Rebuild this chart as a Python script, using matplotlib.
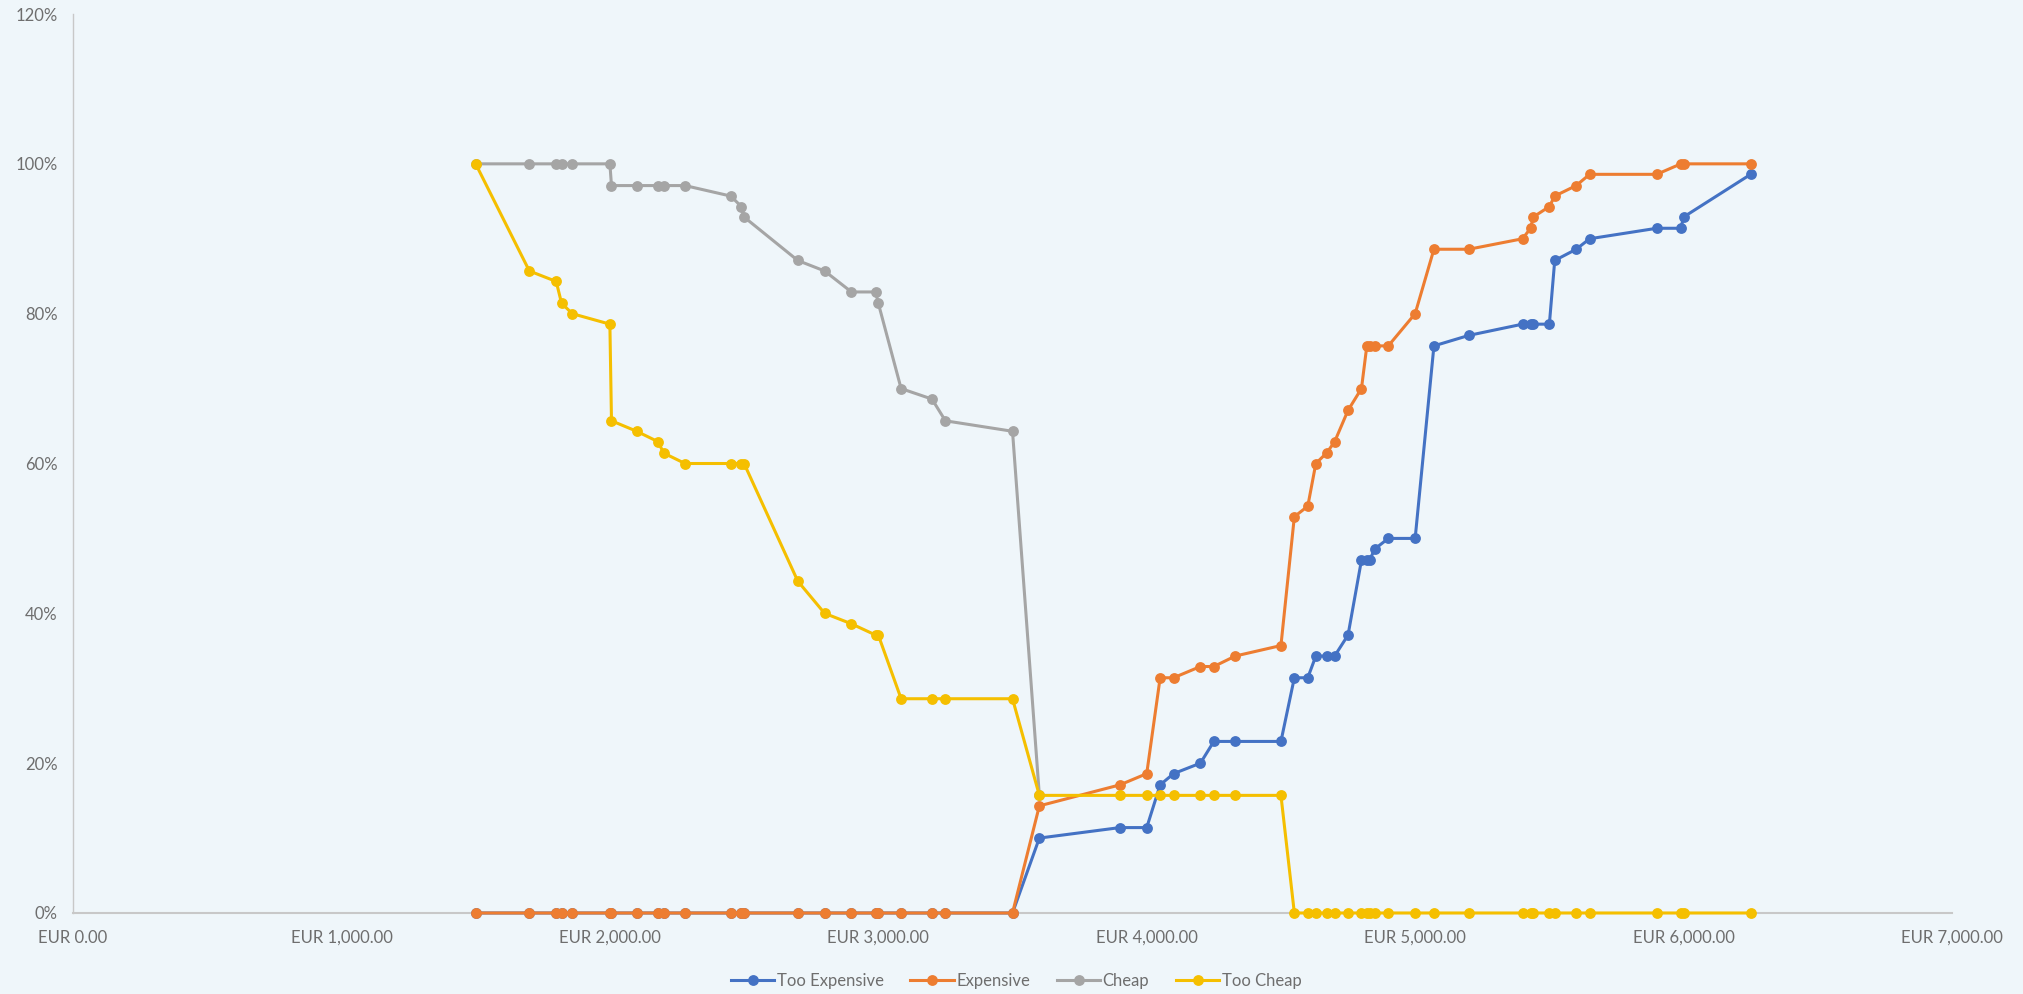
import numpy as np
import matplotlib
matplotlib.use("Agg")
import matplotlib.pyplot as plt
from matplotlib.ticker import FuncFormatter, MultipleLocator

plt.rcParams['font.family'] = ['Lato', 'DejaVu Sans']

nan = np.nan

prices = [1500, 1700, 1800, 1820, 1860, 2000, 2006, 2100, 2180, 2200, 2280,
          2450, 2490, 2500, 2700, 2800, 2900, 2990, 3000, 3085, 3200, 3250,
          3500, 3600, 3900, 4000, 4050, 4100, 4200, 4250, 4330, 4500, 4550,
          4600, 4630, 4670, 4700, 4750, 4800, 4820, 4830, 4850, 4900, 5000,
          5070, 5200, 5400, 5430, 5440, 5500, 5520, 5600, 5650, 5900, 5990,
          6000, 6250]

too_expensive = [0, 0, 0, 0, 0, 0, 0, 0, 0, 0, 0,
                 0, 0, 0, 0, 0, 0, 0, 0, 0, 0, 0,
                 0, 10.0, 11.4, 11.4, 17.1, 18.6, 20.0, 22.9, 22.9, 22.9, 31.4,
                 31.4, 34.3, 34.3, 34.3, 37.1, 47.1, 47.1, 47.1, 48.6, 50.0, 50.0,
                 75.7, 77.1, 78.6, 78.6, 78.6, 78.6, 87.1, 88.6, 90.0, 91.4, 91.4,
                 92.9, 98.6]

expensive = [0, 0, 0, 0, 0, 0, 0, 0, 0, 0, 0,
             0, 0, 0, 0, 0, 0, 0, 0, 0, 0, 0,
             0, 14.3, 17.1, 18.6, 31.4, 31.4, 32.9, 32.9, 34.3, 35.7, 52.9,
             54.3, 60.0, 61.4, 62.9, 67.1, 70.0, 75.7, 75.7, 75.7, 75.7, 80.0,
             88.6, 88.6, 90.0, 91.4, 92.9, 94.3, 95.7, 97.1, 98.6, 98.6, 100.0,
             100.0, 100.0]

cheap = [100, 100, 100, 100, 100, 100, 97.1, 97.1, 97.1, 97.1, 97.1,
         95.7, 94.3, 92.9, 87.1, 85.7, 82.9, 82.9, 81.4, 70.0, 68.6, 65.7,
         64.3, 15.7, nan, nan, nan, nan, nan, nan, nan, nan, nan,
         nan, nan, nan, nan, nan, nan, nan, nan, nan, nan, nan,
         nan, nan, nan, nan, nan, nan, nan, nan, nan, nan, nan,
         nan, nan]

too_cheap = [100, 85.7, 84.3, 81.4, 80.0, 78.6, 65.7, 64.3, 62.9, 61.4, 60.0,
             60.0, 60.0, 60.0, 44.3, 40.0, 38.6, 37.1, 37.1, 28.6, 28.6, 28.6,
             28.6, 15.7, 15.7, 15.7, 15.7, 15.7, 15.7, 15.7, 15.7, 15.7, 0,
             0, 0, 0, 0, 0, 0, 0, 0, 0, 0, 0,
             0, 0, 0, 0, 0, 0, 0, 0, 0, 0, 0,
             0, 0]

series_names = ["Too Expensive", "Expensive", "Cheap", "Too Cheap"]
series_colors = ["#4472C4", "#ED7D31", "#A5A5A5", "#F5BF00"]

bg = "#EFF6FA"
fig = plt.figure(figsize=(20.23, 9.94), dpi=100, facecolor=bg)
ax = fig.add_axes([0.0361, 0.0815, 0.9288, 0.9044])
ax.set_facecolor(bg)

x = np.array(prices, dtype=float)
for name, vals, col in zip(series_names, [too_expensive, expensive, cheap, too_cheap], series_colors):
    y = np.array(vals, dtype=float) / 100.0
    ax.plot(x, y, color=col, lw=2.2, marker='o', markersize=7.8,
            markeredgewidth=0, label=name, clip_on=False, solid_joinstyle='round')

ax.set_xlim(0, 7000)
ax.set_ylim(0, 1.2)
ax.xaxis.set_major_locator(MultipleLocator(1000))
ax.yaxis.set_major_locator(MultipleLocator(0.2))
ax.xaxis.set_major_formatter(FuncFormatter(lambda v, p: "EUR {:,.2f}".format(v)))
ax.yaxis.set_major_formatter(FuncFormatter(lambda v, p: "{:.0f}%".format(v * 100)))

for s in ['top', 'right']:
    ax.spines[s].set_visible(False)
ax.spines['left'].set_color('#C8C8C8')
ax.spines['left'].set_linewidth(1.0)
ax.spines['bottom'].set_color('#C8C8C8')
ax.spines['bottom'].set_linewidth(1.5)
ax.spines['bottom'].set_zorder(0.5)

ax.tick_params(axis='both', length=0, labelsize=12, labelcolor='#6E6E6E')
ax.tick_params(axis='y', pad=11)
ax.tick_params(axis='x', pad=12)

leg = ax.legend(loc='upper center', bbox_to_anchor=(0.502, -0.056), ncol=4,
                frameon=False, fontsize=12, handlelength=2.6, columnspacing=1.6,
                handletextpad=0.15, borderaxespad=0.2)
for t in leg.get_texts():
    t.set_color('#6E6E6E')

fig.savefig("out.png", dpi=100, facecolor=bg)
